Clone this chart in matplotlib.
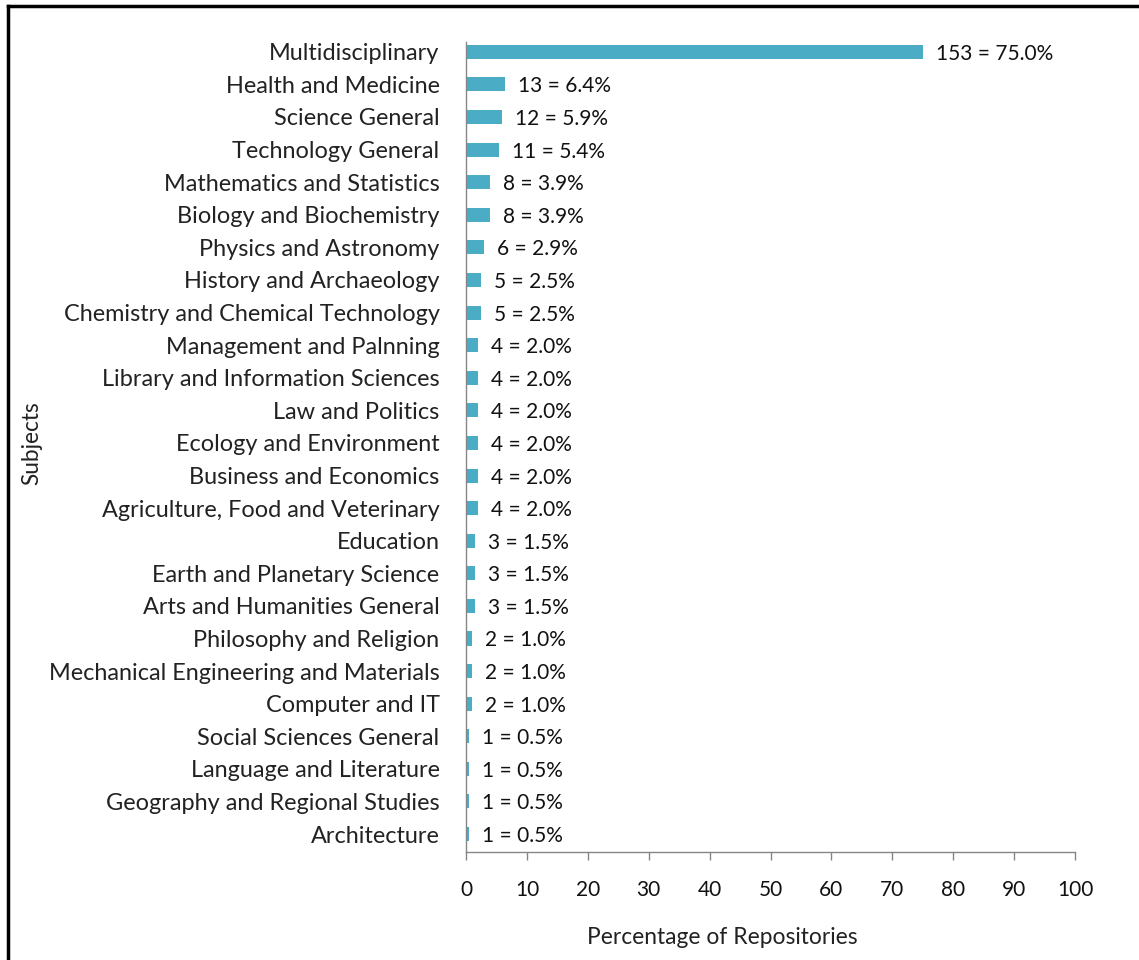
import matplotlib
matplotlib.use("Agg")
import matplotlib.pyplot as plt
from matplotlib.lines import Line2D
from matplotlib.transforms import offset_copy

subjects = [
    "Multidisciplinary", "Health and Medicine", "Science General", "Technology General",
    "Mathematics and Statistics", "Biology and Biochemistry", "Physics and Astronomy",
    "History and Archaeology", "Chemistry and Chemical Technology", "Management and Palnning",
    "Library and Information Sciences", "Law and Politics", "Ecology and Environment",
    "Business and Economics", "Agriculture, Food and Veterinary", "Education",
    "Earth and Planetary Science", "Arts and Humanities General", "Philosophy and Religion",
    "Mechanical Engineering and Materials", "Computer and IT", "Social Sciences General",
    "Language and Literature", "Geography and Regional Studies", "Architecture",
]
counts = [153, 13, 12, 11, 8, 8, 6, 5, 5, 4, 4, 4, 4, 4, 4, 3, 3, 3, 2, 2, 2, 1, 1, 1, 1]
percents = [75.0, 6.4, 5.9, 5.4, 3.9, 3.9, 2.9, 2.5, 2.5, 2.0, 2.0, 2.0, 2.0, 2.0, 2.0,
            1.5, 1.5, 1.5, 1.0, 1.0, 1.0, 0.5, 0.5, 0.5, 0.5]
xticks = [0, 10, 20, 30, 40, 50, 60, 70, 80, 90, 100]

plt.rcParams['font.family'] = ['Lato', 'DejaVu Sans']

W, H = 1139, 960
fig = plt.figure(figsize=(W / 100, H / 100), dpi=100)
ax = fig.add_axes([466 / W, 1 - 852 / H, (1075 - 466) / W, (852 - 42) / H])

bar_color = "#4BACC6"
ypos = list(range(len(subjects)))
ax.barh(ypos, percents, height=0.43, color=bar_color)

ax.set_ylim(len(subjects) - 1 + 0.55, -0.3)
ax.set_xlim(0, 100)
ax.set_xticks(xticks)
ax.set_xticklabels([str(t) for t in xticks], fontsize=15)
ax.set_yticks(ypos)
ax.set_yticklabels(subjects, fontsize=16.9)

for s in ["top", "right"]:
    ax.spines[s].set_visible(False)
for s in ["left", "bottom"]:
    ax.spines[s].set_color("#868686")
    ax.spines[s].set_linewidth(1.0)

ax.tick_params(axis="y", length=0, pad=19, colors="#222222")
ax.tick_params(axis="x", direction="out", length=6, width=1, color="#868686", pad=14,
               labelcolor="#111111")

trans = offset_copy(ax.transData, fig=fig, x=13, y=-2, units="dots")
for y, c, p in zip(ypos, counts, percents):
    ax.text(p, y, f"{c} = {p:.1f}%", transform=trans, ha="left", va="center",
            fontsize=15, color="#111111")

ax.set_xlabel("Percentage of Repositories", fontsize=16.4, color="#222222")
ax.xaxis.set_label_coords((722 - 466) / (1075 - 466), -(927 - 852) / (852 - 42), transform=ax.transAxes)
ax.set_ylabel("Subjects", fontsize=16.3, color="#222222")
ax.yaxis.set_label_coords(-(466 - 42) / (1075 - 466), 0.505, transform=ax.transAxes)

# outer frame (top and left edges visible)
fig.add_artist(Line2D([8 / W, 1.0], [1 - 6 / H, 1 - 6 / H], transform=fig.transFigure,
                      color="black", linewidth=2.5))
fig.add_artist(Line2D([8 / W, 8 / W], [0.0, 1 - 6 / H], transform=fig.transFigure,
                      color="black", linewidth=2.5))

fig.savefig("out.png", dpi=100)
